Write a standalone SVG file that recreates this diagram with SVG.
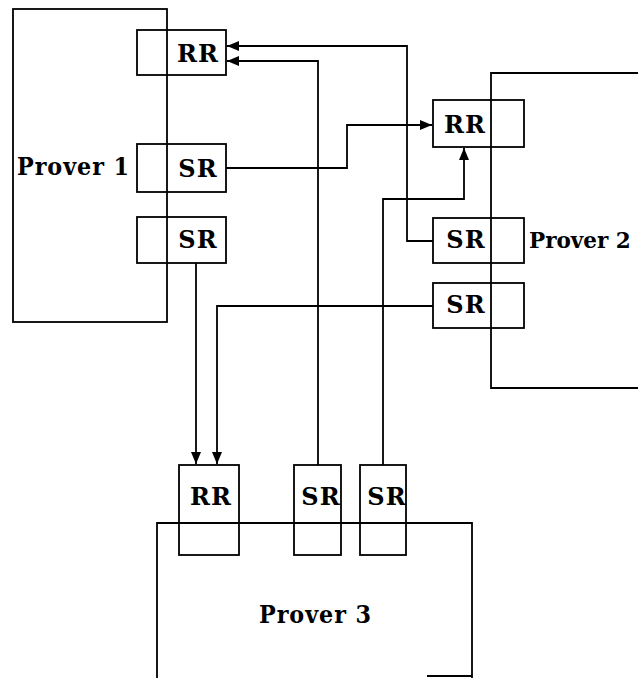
<svg xmlns="http://www.w3.org/2000/svg" width="638" height="678" viewBox="0 0 638 678">
<style>
.box{fill:none;stroke:#000;stroke-width:1.8}
.lbl{font-family:"DejaVu Serif","Liberation Serif",serif;font-weight:bold;font-size:24px;letter-spacing:1px;fill:#000}
.c{text-anchor:middle}
.wire{fill:none;stroke:#000;stroke-width:1.8}
</style>
<defs>
<marker id="ah" markerUnits="userSpaceOnUse" markerWidth="12" markerHeight="10" viewBox="0 0 12 10" refX="12" refY="5" orient="auto">
<path d="M0,0 L12,5 L0,10 Z" fill="#000"/>
</marker>
</defs>
<rect width="638" height="678" fill="#fff"/>
<g id="prover1">
<rect class="box" x="13" y="9" width="154" height="313"/>
<text class="lbl" x="17" y="175" textLength="113" lengthAdjust="spacingAndGlyphs">Prover 1</text>
<rect class="box" x="137" y="30" width="89" height="45"/>
<text class="lbl c" x="198" y="62">RR</text>
<rect class="box" x="137" y="144" width="89" height="48"/>
<text class="lbl c" x="198" y="177">SR</text>
<rect class="box" x="137" y="217" width="89" height="46"/>
<text class="lbl c" x="198" y="248">SR</text>
</g>
<g id="prover2">
<path class="box" d="M638,73 H491 V388 H638"/>
<text class="lbl" x="529" y="248" style="letter-spacing:0;font-size:21.5px">Prover 2</text>
<rect class="box" x="433" y="100" width="91" height="47"/>
<text class="lbl c" x="465" y="133">RR</text>
<rect class="box" x="433" y="218" width="91" height="45"/>
<text class="lbl c" x="466" y="248">SR</text>
<rect class="box" x="433" y="283" width="91" height="45"/>
<text class="lbl c" x="466" y="313">SR</text>
</g>
<g id="prover3">
<path class="box" d="M157,678 V523 H472 V678"/>
<line class="box" x1="427" y1="676" x2="472" y2="676"/>
<text class="lbl" x="259" y="623" textLength="113" lengthAdjust="spacingAndGlyphs">Prover 3</text>
<rect class="box" x="179" y="465" width="60" height="90"/>
<text class="lbl c" x="211" y="505">RR</text>
<rect class="box" x="294" y="465" width="47" height="90"/>
<text class="lbl c" x="321" y="505">SR</text>
<rect class="box" x="360" y="465" width="46" height="90"/>
<text class="lbl c" x="387" y="505">SR</text>
</g>
<g id="connectors">
<path class="wire" d="M433,241 H407 V46 H227" marker-end="url(#ah)"/>
<path class="wire" d="M318,465 V61 H227" marker-end="url(#ah)"/>
<path class="wire" d="M226,168 H347 V125 H432" marker-end="url(#ah)"/>
<path class="wire" d="M383,465 V199 H464 V148" marker-end="url(#ah)"/>
<path class="wire" d="M196,263 V464" marker-end="url(#ah)"/>
<path class="wire" d="M433,306 H217 V464" marker-end="url(#ah)"/>
</g>
</svg>
